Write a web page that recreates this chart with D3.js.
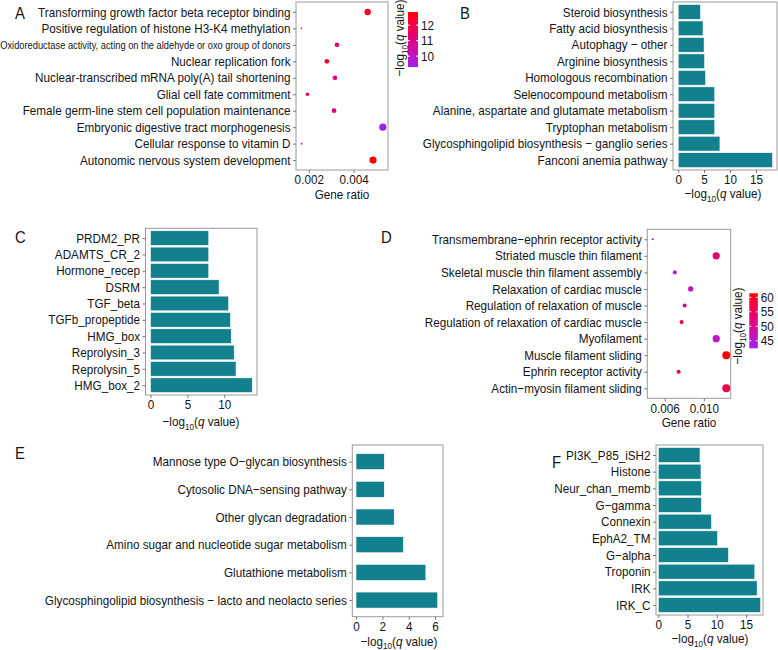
<!DOCTYPE html>
<html><head><meta charset="utf-8">
<script src="https://cdn.jsdelivr.net/npm/d3@7"></script>
<style>
body{margin:0;background:#fff}
svg{display:block}
text{font-family:"Liberation Sans",Arial,Helvetica,sans-serif;fill:#141414}
</style>
</head><body>
<svg id="chart" width="778" height="650"></svg>
<script>
// ---------------- DATA ----------------
// Panel A (GO dot plot) – top to bottom
const aTerms = [
  "Transforming growth factor beta receptor binding",
  "Positive regulation of histone H3-K4 methylation",
  "Oxidoreductase activity, acting on the aldehyde or oxo group of donors",
  "Nuclear replication fork",
  "Nuclear-transcribed mRNA poly(A) tail shortening",
  "Glial cell fate commitment",
  "Female germ-line stem cell population maintenance",
  "Embryonic digestive tract morphogenesis",
  "Cellular response to vitamin D",
  "Autonomic nervous system development"
];
const aRatio = [0.00463, 0.00167, 0.00326, 0.00281, 0.00317, 0.00194, 0.00313, 0.00531, 0.00168, 0.00487];
const aQ     = [12.5, 9.4, 11.3, 12.4, 11.2, 11.9, 11.1, 9.3, 10.2, 12.85];
const aCount = [5, 1, 3, 3, 3, 2, 3, 6, 1, 6];
const aTicks = [0.002, 0.004];
const aLegendTicks = [10, 11, 12];

// Panel B (KEGG bars)
const bTerms = [
  "Steroid biosynthesis", "Fatty acid biosynthesis", "Autophagy \u2212 other",
  "Arginine biosynthesis", "Homologous recombination", "Selenocompound metabolism",
  "Alanine, aspartate and glutamate metabolism", "Tryptophan metabolism",
  "Glycosphingolipid biosynthesis \u2212 ganglio series", "Fanconi anemia pathway"
];
const bValues = [4.3, 4.8, 5.0, 5.1, 5.3, 7.05, 7.05, 7.05, 8.05, 18.2];
const bTicks = [0, 5, 10, 15];

// Panel C (domain bars)
const cTerms = ["PRDM2_PR", "ADAMTS_CR_2", "Hormone_recep", "DSRM", "TGF_beta",
  "TGFb_propeptide", "HMG_box", "Reprolysin_3", "Reprolysin_5", "HMG_box_2"];
const cValues = [7.9, 7.9, 7.9, 9.3, 10.6, 10.85, 10.95, 11.35, 11.6, 13.8];
const cTicks = [0, 5, 10];

// Panel D (GO dot plot)
const dTerms = [
  "Transmembrane\u2212ephrin receptor activity", "Striated muscle thin filament",
  "Skeletal muscle thin filament assembly", "Relaxation of cardiac muscle",
  "Regulation of relaxation of muscle", "Regulation of relaxation of cardiac muscle",
  "Myofilament", "Muscle filament sliding", "Ephrin receptor activity",
  "Actin\u2212myosin filament sliding"
];
const dRatio = [0.00476, 0.01127, 0.00703, 0.00866, 0.00804, 0.00773, 0.01127, 0.0123, 0.00742, 0.0123];
const dQ     = [42.4, 53.5, 43.0, 47.0, 52.0, 56.0, 46.5, 61.4, 59.0, 57.5];
const dCount = [2, 6, 3, 4, 3, 3, 6, 7, 3, 7];
const dTicks = [0.006, 0.010];
const dLegendTicks = [45, 50, 55, 60];

// Panel E (KEGG bars)
const eTerms = [
  "Mannose type O\u2212glycan biosynthesis", "Cytosolic DNA\u2212sensing pathway",
  "Other glycan degradation", "Amino sugar and nucleotide sugar metabolism",
  "Glutathione metabolism", "Glycosphingolipid biosynthesis \u2212 lacto and neolacto series"
];
const eValues = [2.15, 2.15, 2.9, 3.6, 5.3, 6.2];
const eTicks = [0, 2, 4, 6];

// Panel F (domain bars)
const fTerms = ["PI3K_P85_iSH2", "Histone", "Neur_chan_memb", "G\u2212gamma", "Connexin",
  "EphA2_TM", "G\u2212alpha", "Troponin", "IRK", "IRK_C"];
const fValues = [7.13, 7.3, 7.4, 7.4, 9.1, 10.15, 12.0, 16.5, 16.9, 17.5];
const fTicks = [0, 5, 10, 15];

// ---------------- LAYOUT ----------------
const SQ = 0.9;            // horizontal squeeze of glyphs
const FS = 13;             // nominal font size
const BAR = "#13818d";
const BORDER = "#9a9a9a";
const svg = d3.select("#chart");

function qTitle(g, x, y, rotate, fs) {
  const t = g.append("text")
    .attr("text-anchor", "middle")
    .attr("font-size", fs)
    .attr("transform", `translate(${x},${y})` + (rotate ? " rotate(-90)" : ""));
  t.append("tspan").text("\u2212log");
  t.append("tspan").attr("font-size", fs * 0.7).attr("dy", fs * 0.28).text("10");
  t.append("tspan").attr("dy", -fs * 0.28).text("(");
  t.append("tspan").attr("font-style", "italic").text("q");
  t.append("tspan").text(" value)");
  return t;
}

function frame(g, box) {
  g.append("rect").attr("x", box.x0).attr("y", box.y0)
    .attr("width", box.x1 - box.x0).attr("height", box.y1 - box.y0)
    .attr("fill", "none").attr("stroke", BORDER).attr("stroke-width", 1);
}

function axes(g, box, x, y, ticks, fmt) {
  const ya = g.append("g").attr("transform", `translate(${box.x0},0)`)
    .call(d3.axisLeft(y).tickSize(3).tickPadding(2.5));
  const xa = g.append("g").attr("transform", `translate(0,${box.y1})`)
    .call(d3.axisBottom(x).tickValues(ticks).tickSize(3).tickPadding(2).tickFormat(fmt));
  [ya, xa].forEach(a => {
    a.select(".domain").remove();
    a.attr("font-size", null).attr("font-family", null);
    a.selectAll("line").attr("stroke", "#777");
    a.selectAll("text").attr("font-size", FS).attr("fill", "#141414");
  });
  return { ya, xa };
}

function barPanel(opt) {
  const g = svg.append("g");
  const { box, terms, values, domain, ticks, width } = opt;
  const x = d3.scaleLinear().domain(domain).range([box.x0, box.x1]);
  const y = d3.scalePoint().domain(terms).range([box.y0, box.y1]).padding(0.6);
  const bh = y.step() * width;
  g.selectAll("rect.bar").data(terms).join("rect")
    .attr("class", "bar")
    .attr("x", x(0)).attr("y", d => y(d) - bh / 2)
    .attr("width", (d, i) => x(values[i]) - x(0)).attr("height", bh)
    .attr("fill", BAR).attr("stroke", "#ffffff").attr("stroke-width", 0.6);
  frame(g, box);
  axes(g, box, x, y, ticks, d3.format("d"));
  qTitle(g, opt.titleX, opt.titleY, false, FS);
  return g;
}

function dotPanel(opt) {
  const g = svg.append("g");
  const { box, terms, ratio, q, count, domain, ticks } = opt;
  const x = d3.scaleLinear().domain(domain).range([box.x0, box.x1]);
  const y = d3.scalePoint().domain(terms).range([box.y0, box.y1]).padding(0.6);
  const qExt = d3.extent(q);
  const col = d3.scaleLinear().domain(qExt).range(["#A020F0", "#FF0000"]).interpolate(d3.interpolateLab);
  const r = d3.scaleRadial().domain(d3.extent(count)).range(opt.rRange);
  frame(g, box);
  g.selectAll("circle").data(terms).join("circle")
    .attr("cx", (d, i) => x(ratio[i])).attr("cy", d => y(d))
    .attr("r", (d, i) => r(count[i])).attr("fill", (d, i) => col(q[i]));
  const ax = axes(g, box, x, y, ticks, d3.format(".3f"));
  if (opt.smallLabel) {
    ax.ya.selectAll("text").filter(d => d === opt.smallLabel).attr("font-size", 10.35);
  }
  g.append("text").attr("x", opt.titleX).attr("y", opt.titleY)
    .attr("text-anchor", "middle").attr("font-size", FS).text("Gene ratio");

  // colour legend
  const L = opt.legend;
  const id = "grad" + opt.key;
  const grad = svg.append("defs").append("linearGradient").attr("id", id)
    .attr("x1", 0).attr("y1", 1).attr("x2", 0).attr("y2", 0);
  d3.range(0, 1.0001, 0.1).forEach(t => {
    grad.append("stop").attr("offset", t).attr("stop-color", col(qExt[0] + t * (qExt[1] - qExt[0])));
  });
  g.append("rect").attr("x", L.x).attr("y", L.y0).attr("width", L.w).attr("height", L.y1 - L.y0)
    .attr("fill", `url(#${id})`);
  const ly = d3.scaleLinear().domain(qExt).range([L.y1, L.y0]);
  opt.legendTicks.forEach(v => {
    g.append("line").attr("x1", L.x).attr("x2", L.x + 2).attr("y1", ly(v)).attr("y2", ly(v)).attr("stroke", "#fff");
    g.append("line").attr("x1", L.x + L.w - 2).attr("x2", L.x + L.w).attr("y1", ly(v)).attr("y2", ly(v)).attr("stroke", "#fff");
    g.append("text").attr("x", L.x + L.w + 3).attr("y", ly(v)).attr("dy", "0.35em")
      .attr("font-size", FS).text(v);
  });
  qTitle(g, L.titleX, L.titleY, true, FS);
  return g;
}

function letter(t, x, y) {
  svg.append("text").attr("x", x).attr("y", y).attr("font-size", 16.5).text(t);
}

// Panel A
dotPanel({
  key: "A", box: { x0: 296, x1: 388, y0: 2, y1: 170 },
  terms: aTerms, ratio: aRatio, q: aQ, count: aCount,
  domain: [0.00143, 0.00554], ticks: aTicks, rRange: [0.9, 3.6],
  smallLabel: aTerms[2], titleX: 342, titleY: 199,
  legend: { x: 408, w: 10, y0: 12, y1: 67, titleX: 404, titleY: 38 },
  legendTicks: aLegendTicks
});
// Panel B
barPanel({
  box: { x0: 673, x1: 777, y0: 2, y1: 170 }, terms: bTerms, values: bValues,
  domain: [-1.0, 19.05], ticks: bTicks, width: 0.9, titleX: 723, titleY: 198
});
// Panel C
barPanel({
  box: { x0: 145.5, x1: 257, y0: 228.3, y1: 395 }, terms: cTerms, values: cValues,
  domain: [-0.68, 14.44], ticks: cTicks, width: 0.9, titleX: 201, titleY: 426
});
// Panel D
dotPanel({
  key: "D", box: { x0: 647.3, x1: 730.7, y0: 229.3, y1: 398.3 },
  terms: dTerms, ratio: dRatio, q: dQ, count: dCount,
  domain: [0.00422, 0.01275], ticks: dTicks, rRange: [1.1, 4.0],
  titleX: 689, titleY: 427,
  legend: { x: 749.3, w: 8.5, y0: 293.3, y1: 348.3, titleX: 742, titleY: 326 },
  legendTicks: dLegendTicks
});
// Panel E
barPanel({
  box: { x0: 352.3, x1: 443, y0: 445, y1: 616.7 }, terms: eTerms, values: eValues,
  domain: [-0.28, 6.6], ticks: eTicks, width: 0.58, titleX: 399, titleY: 645.5
});
// Panel F
barPanel({
  box: { x0: 656, x1: 763, y0: 445, y1: 615 }, terms: fTerms, values: fValues,
  domain: [-0.39, 17.9], ticks: fTicks, width: 0.9, titleX: 710, titleY: 643
});

letter("A", 15, 19);
letter("B", 460, 19);
letter("C", 15, 243);
letter("D", 381, 243);
letter("E", 15, 459);
letter("F", 552, 468);

// squeeze all glyphs horizontally about their anchor points
svg.selectAll("text").each(function () {
  const t = d3.select(this);
  const x = +t.attr("x") || 0, y = +t.attr("y") || 0;
  const T = t.attr("transform") || "";
  t.attr("x", 0).attr("y", 0)
   .attr("transform", `${T} translate(${x},${y}) scale(${SQ},1)`);
});
</script>
</body></html>
